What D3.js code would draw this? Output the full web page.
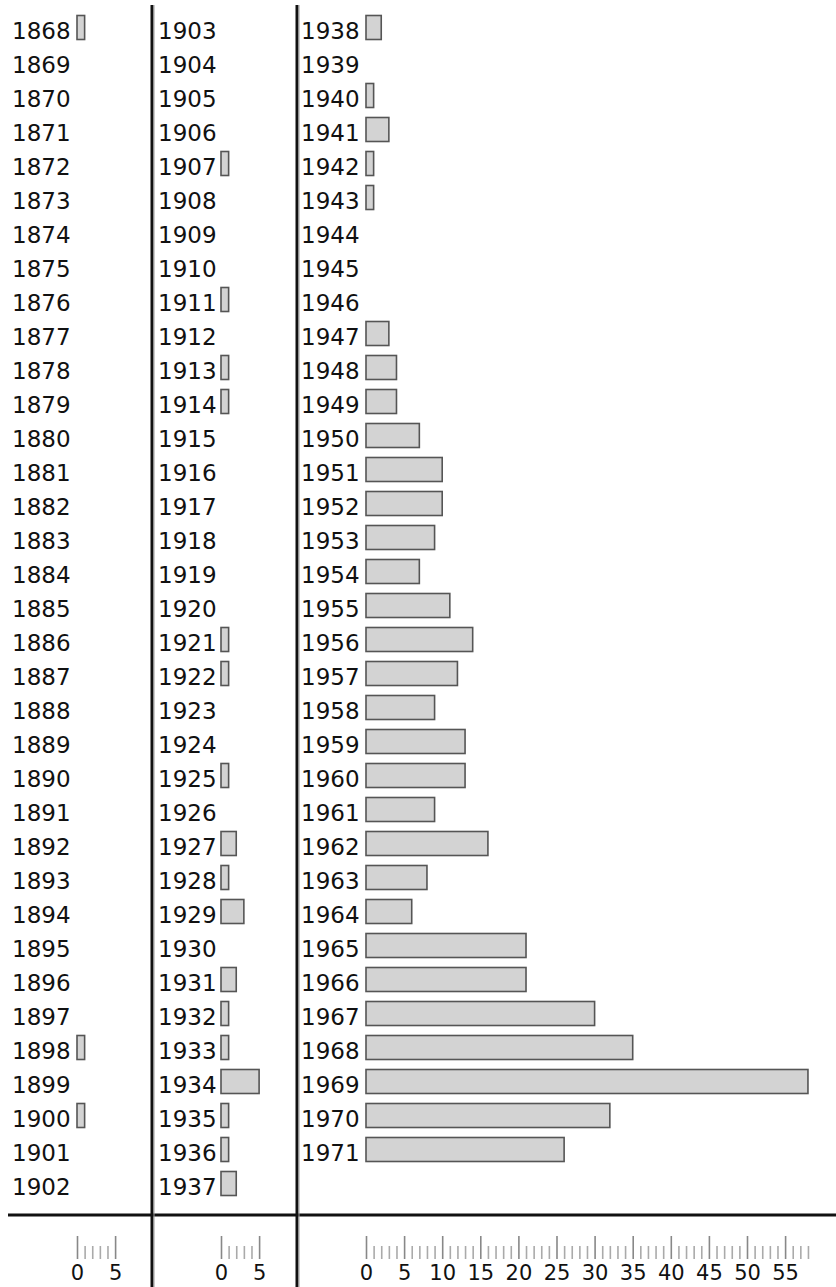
<!DOCTYPE html>
<html>
<head>
<meta charset="UTF-8">
<title>Bars by year</title>
<script type="text/javascript" src="https://cdn.jsdelivr.net/npm/d3@7"></script>
<style type="text/css">
body{margin:0;background:#fff;}
svg{display:block;font-family:"DejaVu Sans",sans-serif;}
</style>
</head>
<body>
<script type="text/javascript">
var width=836,height=1287;
// years per column
var years1=d3.range(1868,1903);
var years2=d3.range(1903,1938);
var years3=d3.range(1938,1972);
// counts per column
var counts1=[1,0,0,0,0,0,0,0,0,0,0,0,0,0,0,0,0,0,0,0,0,0,0,0,0,0,0,0,0,0,1,0,1,0,0];
var counts2=[0,0,0,0,1,0,0,0,1,0,1,1,0,0,0,0,0,0,1,1,0,0,1,0,2,1,3,0,2,1,1,5,1,1,2];
var counts3=[2,0,1,3,1,1,0,0,0,3,4,4,7,10,10,9,7,11,14,12,9,13,13,9,16,8,6,21,21,30,35,58,32,26];
// axis extent per column
var axisMax=[5,5,58];

var columns=[
	{years:years1,counts:counts1,labelX:12,barX:77,max:axisMax[0]},
	{years:years2,counts:counts2,labelX:158,barX:221,max:axisMax[1]},
	{years:years3,counts:counts3,labelX:301,barX:366,max:axisMax[2]}
];
var unit=7.62;//px per count
var rowPitch=34;

var svg=d3.select("body").append("svg")
	.attr("width",width)
	.attr("height",height);

columns.forEach(function(col){
	var yScale=d3.scaleBand()
		.domain(col.years)
		.range([10.5,10.5+col.years.length*rowPitch])
		.paddingInner(10/34)
		.paddingOuter(5/34);
	var xScale=d3.scaleLinear()
		.domain([0,col.max])
		.range([col.barX,col.barX+col.max*unit]);
	var rows=col.years.map(function(y,i){return {year:y,value:col.counts[i]};});

	var g=svg.append("g");
	g.selectAll("rect")
		.data(rows.filter(function(d){return d.value>0;}))
		.enter()
		.append("rect")
		.attr("x",xScale(0))
		.attr("y",function(d){return yScale(d.year);})
		.attr("width",function(d){return xScale(d.value)-xScale(0);})
		.attr("height",yScale.bandwidth())
		.attr("fill","#d3d3d3")
		.attr("stroke","#555")
		.attr("stroke-width",1.6);
	g.selectAll("text")
		.data(rows)
		.enter()
		.append("text")
		.attr("x",col.labelX)
		.attr("y",function(d){return yScale(d.year)+yScale.bandwidth()-0.5;})
		.attr("font-size","23px")
		.attr("fill","#111")
		.text(function(d){return d.year;});

	//axis under the column
	var ax=svg.append("g")
		.attr("transform","translate(0,1236)")
		.call(d3.axisBottom(xScale)
			.tickValues(d3.range(0,col.max+1))
			.tickSize(23)
			.tickFormat(function(d){return d%5===0?d:"";}));
	ax.select(".domain").remove();
	ax.selectAll(".tick line")
		.attr("y1",function(d){return d%5===0?0:10;})
		.attr("stroke",function(d){return d%5===0?"#888":"#aaa";})
		.attr("stroke-width",1.6);
	ax.selectAll(".tick text")
		.attr("y",44)
		.attr("dy",0)
		.attr("font-size","21px")
		.attr("font-family","DejaVu Sans, sans-serif")
		.attr("fill","#111");
});

//frame lines
svg.append("line")
	.attr("x1",8).attr("x2",width)
	.attr("y1",1215).attr("y2",1215)
	.attr("stroke","#111").attr("stroke-width",3);
[152,297].forEach(function(x){
	svg.append("line")
		.attr("x1",x).attr("x2",x)
		.attr("y1",5).attr("y2",height)
		.attr("stroke","#111").attr("stroke-width",3);
	svg.append("line")
		.attr("x1",x+2).attr("x2",x+2)
		.attr("y1",5).attr("y2",height)
		.attr("stroke","#999").attr("stroke-width",1);
});
</script>
</body>
</html>
